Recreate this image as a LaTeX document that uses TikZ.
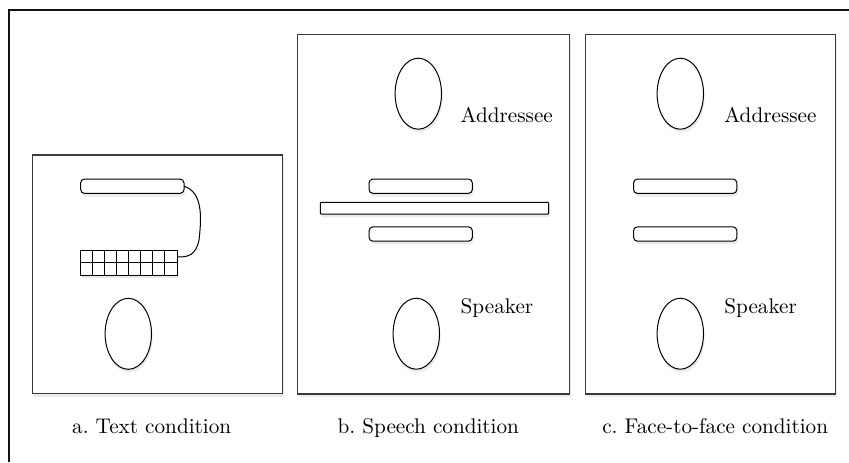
\documentclass[tikz,border=0pt]{standalone}
\usetikzlibrary{shapes.geometric, positioning, shadows}
\definecolor{RoomGray}{HTML}{3A3A3A}
\definecolor{FrameBlack}{HTML}{111111}
\frenchspacing

\tikzset{
  soft/.style={drop shadow={shadow xshift=0.6pt, shadow yshift=-1.6pt, opacity=0.08, fill=black}},
  room/.style={draw=RoomGray, line width=0.65pt, fill=white, soft},
  desk/.style={draw, line width=0.5pt, fill=white, rounded corners=2pt, minimum width=51.7pt, minimum height=7.2pt, inner sep=0pt, outer sep=0pt, soft},
  screen/.style={draw, line width=0.5pt, fill=white, rounded corners=0.5pt, minimum width=114.2pt, minimum height=5.9pt, inner sep=0pt, outer sep=0pt, soft},
  person/.style={draw, ellipse, line width=0.5pt, fill=white, minimum width=23.2pt, minimum height=35.5pt, inner sep=0pt, outer sep=0pt, soft},
  keys/.style={draw, line width=0.5pt, fill=white, minimum width=48.2pt, minimum height=12.2pt, inner sep=0pt, outer sep=0pt, soft},
  role/.style={font=\fontsize{10.6}{12}\selectfont, inner sep=0pt, anchor=base west},
  caption/.style={font=\fontsize{10.6}{12}\selectfont, inner sep=0pt, anchor=base}
}

\begin{document}
\begin{tikzpicture}[x=0.5pt, y=-0.5pt]
  \useasboundingbox (0,0) rectangle (849,462);
  \fill[white] (0,0) rectangle (849,462);
  % outer frame
  \draw[FrameBlack, line width=1pt] (8.5,462) -- (8.5,10) -- (849,10);

  % rooms
  \draw[room] (32.3,155) rectangle (282.7,393.3);
  \draw[room] (297.3,34.3) rectangle (569.3,394);
  \draw[room] (585.3,34.3) rectangle (835.7,394);

  % a. text condition
  \node[desk] (deskA) at (132.3,186.2) {};
  \node[keys] (kbd) at (128.9,262.9) {};
  \foreach \i in {1,...,7} {
    \pgfmathsetmacro{\x}{80.7+12.04*\i}
    \draw[line width=0.5pt] (\x,250.7) -- (\x,275);
  }
  \draw[line width=0.5pt] (kbd.west) -- (kbd.east);
  \draw[line width=0.5pt] (deskA.east) .. controls (202,192) and (202,215) .. (199,240)
    .. controls (196,255) and (188,257.5) .. ([yshift=3pt]kbd.east);
  \node[person] (speakerA) at (128.3,333.8) {};
  \node[caption] (capA) at (151.7,433.3) {a. Text condition};

  % b. speech condition
  \node[person] (addrB) at (418.3,93.7) {};
  \node[role] (addrTextB) at (460.3,122.5) {Addressee};
  \node[desk] (deskB1) at (420.7,186.2) {};
  \node[screen] (wallB) at (434.5,208.2) {};
  \node[desk] (deskB2) at (420.7,234) {};
  \node[person] (speakerB) at (416.3,333.7) {};
  \node[role] (speakerTextB) at (460.3,313.3) {Speaker};
  \node[caption] (capB) at (428.3,433.3) {b. Speech condition};

  % c. face-to-face condition
  \node[person] (addrC) at (680.3,93.7) {};
  \node[role] (addrTextC) at (724,122.5) {Addressee};
  \node[desk] (deskC1) at (685.2,186.2) {};
  \node[desk] (deskC2) at (685.2,234) {};
  \node[person] (speakerC) at (680.3,333.7) {};
  \node[role] (speakerTextC) at (724,313.3) {Speaker};
  \node[caption] (capC) at (715.2,433.3) {c. Face-to-face condition};
\end{tikzpicture}
\end{document}
